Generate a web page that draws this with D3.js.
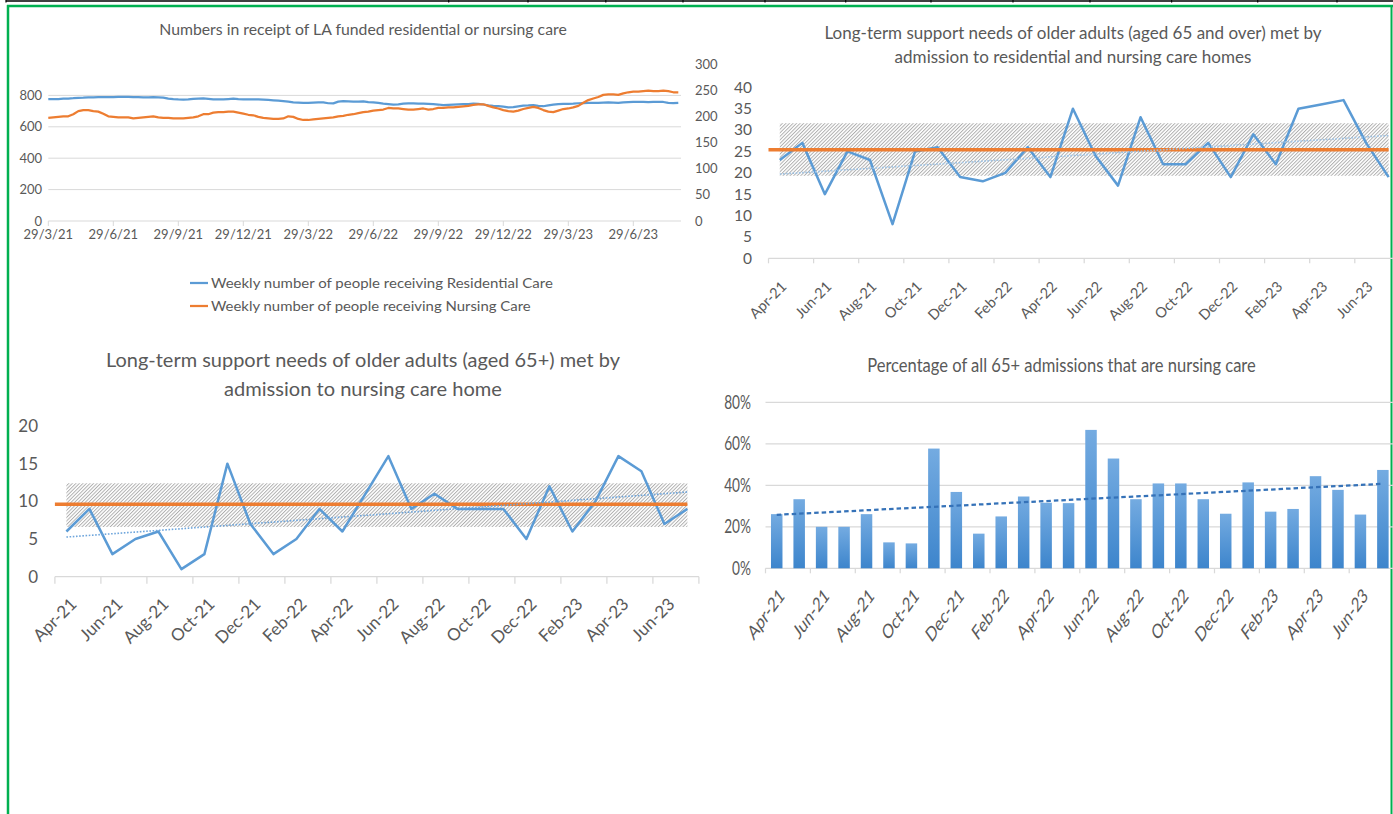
<!DOCTYPE html>
<html><head><meta charset="utf-8">
<script src="https://cdn.jsdelivr.net/npm/d3@7"></script>
<style>
html,body{margin:0;padding:0;background:#fff;overflow:hidden;}
svg{display:block;font-family:Lato,"Open Sans",sans-serif;}
</style></head><body>
<svg id="c" width="1393" height="814"></svg>
<script>
// ---------------- DATA ----------------
// Weekly (from 29/3/21), chart 1
const residentialWeekly = [
 776,777,777,779,780,782,785,786,788,788,789,789,789,789,790,790,790,789,789,787,788,789,788,786,779,776,774,773,774,778,780,781,
 778,775,775,775,777,779,776,775,775,774,774,773,771,769,766,763,760,756,754,752,752,754,756,755,750,749,760,764,762,760,761,762,
 757,756,752,748,745,742,743,747,749,749,748,747,746,745,742,738,740,742,743,744,745,747,746,742,736,733,731,728,724,725,730,735,
 736,738,733,731,737,741,745,746,746,747,750,751,752,752,752,754,756,754,752,755,757,758,758,758,757,758,759,758,753,751,753];
const nursingWeekly = [
 197,198,199,200,200,204,210,212,212,210,209,205,200,199,198,198,198,196,197,198,199,200,198,197,197,196,196,196,197,198,200,204,
 204,207,208,208,209,209,207,205,203,202,199,197,196,195,195,196,200,199,195,193,193,194,195,196,197,198,200,201,203,204,206,208,
 209,211,212,213,216,215,215,214,213,213,214,215,213,214,216,216,217,217,218,219,220,222,223,223,220,217,215,212,210,209,211,214,
 216,218,216,212,209,208,211,214,215,217,220,226,231,234,237,241,242,242,241,244,246,247,247,248,249,248,248,249,248,246,246];
const weekTickIndex = [0,13,26,39,52,65,78,91,104,117];
const weekTickLabels = ["29/3/21","29/6/21","29/9/21","29/12/21","29/3/22","29/6/22","29/9/22","29/12/22","29/3/23","29/6/23"];
const leftTicks = [0,200,400,600,800];
const rightTicks = [0,50,100,150,200,250,300];
const seriesNames = ["Weekly number of people receiving Residential Care","Weekly number of people receiving Nursing Care"];

// Monthly
const months = ["Apr-21","May-21","Jun-21","Jul-21","Aug-21","Sep-21","Oct-21","Nov-21","Dec-21","Jan-22","Feb-22","Mar-22",
 "Apr-22","May-22","Jun-22","Jul-22","Aug-22","Sep-22","Oct-22","Nov-22","Dec-22","Jan-23","Feb-23","Mar-23","Apr-23","May-23","Jun-23","Jul-23"];
const allAdmissions = [23,27,15,25,23,8,25,26,19,18,20,26,19,35,24,17,33,22,22,27,19,29,22,35,36,37,27,19];
const allBenchmark = 25.4;
const allBand = [19.3, 31.6];
const nursingAdmissions = [6,9,3,5,6,1,3,15,7,3,5,9,6,11,16,9,11,9,9,9,5,12,6,10,16,14,7,9];
const nursingBenchmark = 9.6;
const nursingBand = [6.6, 12.4];
const pctNursing = [26.1,33.3,20,20,26.1,12.5,12,57.7,36.8,16.7,25,34.6,31.6,31.4,66.7,52.9,33.3,40.9,40.9,33.3,26.3,41.4,27.3,28.6,44.4,37.8,25.9,47.4];
const pctTicks = [0,20,40,60,80];

const titles = {
  tl: "Numbers in receipt of LA funded residential or nursing care",
  tr: ["Long-term support needs of older adults (aged 65 and over) met by","admission to residential and nursing care homes"],
  bl: ["Long-term support needs of older adults (aged 65+) met by","admission to nursing care home"],
  br: "Percentage of all 65+ admissions that are nursing care"
};

// ---------------- HELPERS ----------------
const svg = d3.select("#c");
const TXT = "#595959", GRID = "#d9d9d9", BLUE = "#5b9bd5", ORANGE = "#ed7d31";

const defs = svg.append("defs");
const pat = defs.append("pattern").attr("id","hatch").attr("width",2.5).attr("height",2.5)
  .attr("patternUnits","userSpaceOnUse").attr("patternTransform","rotate(45)");
pat.append("rect").attr("width",2.5).attr("height",2.5).attr("fill","#fff");
pat.append("line").attr("x1",0.5).attr("y1",0).attr("x2",0.5).attr("y2",2.5).attr("stroke","#a8a8a8").attr("stroke-width",0.9);
const grad = defs.append("linearGradient").attr("id","barGrad").attr("x1",0).attr("y1",0).attr("x2",0).attr("y2",1);
grad.append("stop").attr("offset","0%").attr("stop-color","#74abe1");
grad.append("stop").attr("offset","100%").attr("stop-color","#3d85cc");

function fitText(g, x, y, str, size, target, anchor){
  const t = g.append("text").attr("font-size", size).attr("fill", TXT)
    .attr("text-anchor", anchor || "middle").text(str);
  const L = t.node().getComputedTextLength();
  const k = target ? target / L : 1;
  t.attr("transform", `translate(${x},${y}) scale(${k},1)`);
  return t;
}
function linReg(vals){
  const n = vals.length, mx = (n-1)/2, my = d3.mean(vals);
  let sxy = 0, sxx = 0;
  vals.forEach((v,i)=>{ sxy += (i-mx)*(v-my); sxx += (i-mx)*(i-mx); });
  const b = sxy/sxx;
  return i => my + b*(i-mx);
}

// ---------------- FRAME ----------------
svg.append("line").attr("x1",6).attr("x2",1393).attr("y1",1).attr("y2",1).attr("stroke","#000").attr("stroke-width",1.5);
[6,448.7,528,605.8,683,765,845.7,931,1013,1090,1171.6,1257.7,1337].forEach(x=>{
  svg.append("line").attr("x1",x).attr("x2",x).attr("y1",0).attr("y2",2.5).attr("stroke","#000").attr("stroke-width",1.2);
});
svg.append("line").attr("x1",7).attr("x2",1393).attr("y1",6).attr("y2",6).attr("stroke","#00b050").attr("stroke-width",2.5);
svg.append("line").attr("x1",8).attr("x2",8).attr("y1",5).attr("y2",814).attr("stroke","#00b050").attr("stroke-width",2.5);
svg.append("line").attr("x1",1391.5).attr("x2",1391.5).attr("y1",5).attr("y2",814).attr("stroke","#00b050").attr("stroke-width",2);

// ---------------- CHART 1 (top-left) ----------------
(function(){
  const g = svg.append("g");
  const x = d3.scaleLinear().domain([0, residentialWeekly.length-1]).range([48.3, 678.3]);
  const yL = d3.scaleLinear().domain([0,1000]).range([221, 64]);
  const yR = d3.scaleLinear().domain([0,300]).range([221, 64]);
  const right = 681;
  fitText(g, 363, 35, titles.tl, 15, 408);
  g.selectAll(".gl").data(leftTicks).join("line").attr("x1",48.3).attr("x2",right)
    .attr("y1",d=>yL(d)).attr("y2",d=>yL(d)).attr("stroke",GRID).attr("stroke-width",1);
  g.selectAll(".ll").data(leftTicks).join("text").attr("x",42).attr("y",d=>yL(d)).attr("dy","0.35em")
    .attr("text-anchor","end").attr("font-size",13).attr("fill",TXT).text(d=>d);
  g.selectAll(".rl").data(rightTicks).join("text").attr("x",695).attr("y",d=>yR(d)).attr("dy","0.35em")
    .attr("text-anchor","start").attr("font-size",13).attr("fill",TXT).text(d=>d);
  g.selectAll(".tk").data(weekTickIndex).join("line").attr("x1",d=>x(d)).attr("x2",d=>x(d))
    .attr("y1",221).attr("y2",226).attr("stroke",GRID);
  g.selectAll(".xl").data(weekTickIndex).join("text").attr("x",d=>x(d)).attr("y",239)
    .attr("text-anchor","middle").attr("font-size",13).attr("fill",TXT).text((d,i)=>weekTickLabels[i]);
  const lineL = d3.line().x((d,i)=>x(i)).y(d=>yL(d));
  const lineR = d3.line().x((d,i)=>x(i)).y(d=>yR(d));
  g.append("path").attr("d",lineL(residentialWeekly)).attr("fill","none").attr("stroke",BLUE)
    .attr("stroke-width",2.25).attr("stroke-linejoin","round");
  g.append("path").attr("d",lineR(nursingWeekly)).attr("fill","none").attr("stroke",ORANGE)
    .attr("stroke-width",2.25).attr("stroke-linejoin","round");
  // legend
  [[BLUE,283,342],[ORANGE,306,320]].forEach((d,i)=>{
    g.append("line").attr("x1",190).attr("x2",208).attr("y1",d[1]).attr("y2",d[1]).attr("stroke",d[0]).attr("stroke-width",2.25);
    fitText(g, 211, d[1]+5, seriesNames[i], 14, d[2], "start");
  });
})();

// ---------------- generic control chart ----------------
function controlChart(opt){
  const g = svg.append("g");
  const x = d3.scaleBand().domain(months).range([opt.left, opt.left + opt.cw*months.length]).padding(0);
  const cx = m => x(m) + x.bandwidth()/2;
  const y = d3.scaleLinear().domain(opt.domain).range([opt.bottom, opt.top]);
  opt.titles.forEach((t,i)=> fitText(g, opt.titleX, opt.titleY[i], t, opt.titleSize, opt.titleW[i]));
  g.selectAll(".yl").data(opt.ticks).join("text").attr("x",opt.labelX).attr("y",d=>y(d)).attr("dy","0.35em")
    .attr("text-anchor","end").attr("font-size",opt.tickSize).attr("fill",TXT).text(d=>d);
  g.append("line").attr("x1",opt.left).attr("x2",Math.min(1393,opt.left+opt.cw*months.length))
    .attr("y1",y(0)).attr("y2",y(0)).attr("stroke",GRID).attr("stroke-width",1.25);
  const tickIdx = d3.range(0, months.length+1, 2);
  g.selectAll(".tk").data(tickIdx).join("line")
    .attr("x1",d=>opt.left+d*x.bandwidth()).attr("x2",d=>opt.left+d*x.bandwidth())
    .attr("y1",y(0)).attr("y2",y(0)+opt.tickLen).attr("stroke",GRID).attr("stroke-width",1.25);
  const labIdx = d3.range(0, months.length, 2);
  g.selectAll(".xl").data(labIdx).join("text").attr("text-anchor","end").attr("dy","0.35em")
    .attr("font-size",opt.xSize).attr("fill",TXT)
    .attr("transform",d=>`translate(${cx(months[d])+opt.labDx},${opt.labY}) rotate(-45)`)
    .text(d=>months[d]);
  const first = cx(months[0]), last = cx(months[months.length-1]);
  g.append("rect").attr("x",first).attr("width",last-first)
    .attr("y",y(opt.band[1])).attr("height",y(opt.band[0])-y(opt.band[1])).attr("fill","url(#hatch)");
  const line = d3.line().x((d,i)=>cx(months[i])).y(d=>y(d));
  g.append("path").attr("d",line(opt.values)).attr("fill","none").attr("stroke",BLUE)
    .attr("stroke-width",2.5).attr("stroke-linejoin","round");
  g.append("line").attr("x1",opt.left).attr("x2",last).attr("y1",y(opt.bench)).attr("y2",y(opt.bench))
    .attr("stroke",ORANGE).attr("stroke-width",3.5);
  const tr = linReg(opt.values);
  g.append("line").attr("x1",first).attr("x2",last).attr("y1",y(tr(0))).attr("y2",y(tr(months.length-1)))
    .attr("stroke",opt.trendColor).attr("stroke-width",1.6).attr("stroke-dasharray","1.6,1.6");
}

controlChart({
  left:768.5, cw:22.55, top:87.3, bottom:258.3, domain:[0,40], ticks:d3.range(0,41,5),
  titles:titles.tr, titleX:1073, titleY:[38.5,62.5], titleSize:17, titleW:[497,357],
  labelX:752, tickSize:15.5, tickLen:5, xSize:14.5, labDx:4, labY:284,
  values:allAdmissions, bench:allBenchmark, band:allBand, trendColor:"#9dc3e6"
});
controlChart({
  left:54.9, cw:23, top:426, bottom:576.7, domain:[0,20], ticks:[0,5,10,15,20],
  titles:titles.bl, titleX:363, titleY:[366.7,395.7], titleSize:19.5, titleW:[514.5,278],
  labelX:38, tickSize:17, tickLen:7, xSize:17, labDx:7, labY:601,
  values:nursingAdmissions, bench:nursingBenchmark, band:nursingBand, trendColor:"#6fa6dc"
});

// ---------------- CHART 4 (bottom-right bars) ----------------
(function(){
  const g = svg.append("g");
  const K = 0.72;
  const left = 765.5, cw = 22.45;
  const x = d3.scaleBand().domain(months).range([left, left+cw*months.length]).padding(0);
  const cx = m => x(m) + x.bandwidth()/2;
  const y = d3.scaleLinear().domain([0,80]).range([568.3, 402.3]);
  fitText(g, 1061.5, 371.7, titles.br, 20, 389);
  g.selectAll(".gl").data(pctTicks).join("line").attr("x1",left).attr("x2",1393)
    .attr("y1",d=>y(d)).attr("y2",d=>y(d)).attr("stroke",GRID).attr("stroke-width",1.25);
  g.selectAll(".yl").data(pctTicks).join("text").attr("text-anchor","end").attr("dy","0.35em")
    .attr("font-size",19).attr("fill",TXT)
    .attr("transform",d=>`translate(751,${y(d)}) scale(${K},1)`).text(d=>d+"%");
  const tickIdx = d3.range(0, months.length+1, 2);
  g.selectAll(".tk").data(tickIdx).join("line")
    .attr("x1",d=>left+d*cw).attr("x2",d=>left+d*cw).attr("y1",y(0)).attr("y2",y(0)+5)
    .attr("stroke",GRID).attr("stroke-width",1.25);
  const labIdx = d3.range(0, months.length, 2);
  g.selectAll(".xl").data(labIdx).join("text").attr("text-anchor","end").attr("dy","0.35em")
    .attr("font-size",20).attr("fill",TXT)
    .attr("transform",d=>`translate(${cx(months[d])+5},592) scale(${K},1) rotate(-45)`)
    .text(d=>months[d]);
  const bw = 11.5;
  g.selectAll(".bar").data(pctNursing).join("rect")
    .attr("x",(d,i)=>cx(months[i])-bw/2).attr("width",bw)
    .attr("y",d=>y(d)).attr("height",d=>y(0)-y(d)).attr("fill","url(#barGrad)");
  const tr = linReg(pctNursing);
  g.append("line").attr("x1",cx(months[0])).attr("x2",cx(months[months.length-1]))
    .attr("y1",y(tr(0))).attr("y2",y(tr(months.length-1)))
    .attr("stroke","#3572b8").attr("stroke-width",2.25).attr("stroke-dasharray","4.5,3");
})();
</script>
</body></html>
